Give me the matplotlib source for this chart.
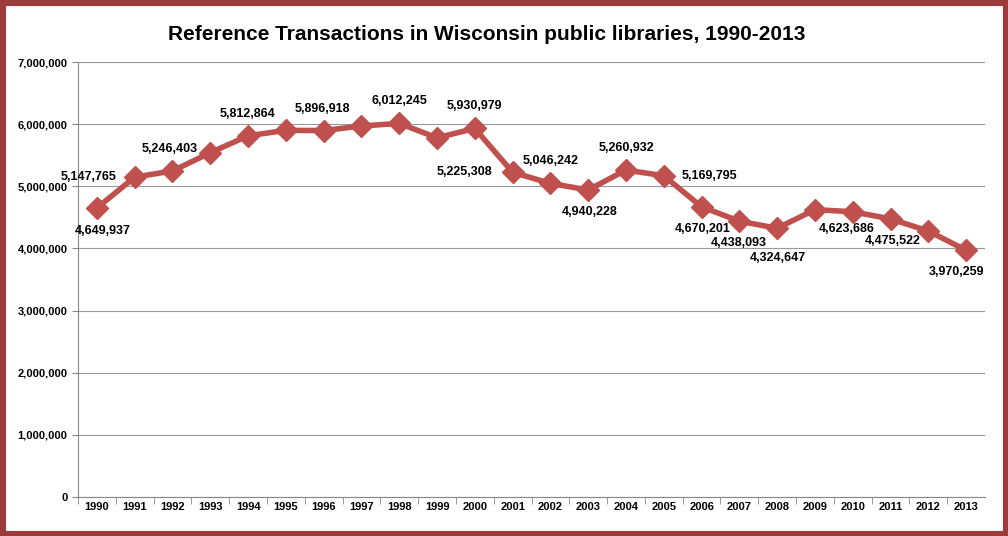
import matplotlib
matplotlib.use("Agg")
import matplotlib.pyplot as plt
from matplotlib.patches import Rectangle

years = list(range(1990, 2014))
values = [4649937, 5147765, 5246403, 5540000, 5812864, 5900000, 5896918, 5970000,
          6012245, 5780000, 5930979, 5225308, 5046242, 4940228, 5260932, 5169795,
          4670201, 4438093, 4324647, 4623686, 4590000, 4475522, 4280000, 3970259]
labeled = {1990: (6, -23), 1991: (-46, 0), 1992: (-3, 22), 1994: (-1, 22), 1996: (-1, 22),
           1998: (0, 22), 2000: (0, 22), 2001: (-48, 0), 2002: (0, 22), 2003: (1, -22),
           2004: (0, 22), 2005: (46, 0), 2006: (1, -22), 2007: (-1, -22), 2008: (1, -30),
           2009: (32, -19), 2011: (2, -22), 2013: (-10, -22)}

plt.rcParams['font.family'] = ['Liberation Sans', 'DejaVu Sans']
fig = plt.figure(figsize=(10.08, 5.36), dpi=100)
fig.patches.append(Rectangle((0, 0), 1, 1, transform=fig.transFigure, fill=False,
                             edgecolor='#9B3B3A', linewidth=8))
ax = fig.add_axes([78/1008, 1-497/536, (985-78)/1008, (497-62)/536])
x = list(range(len(years)))
ax.plot(x, values, color='#C0504D', linewidth=4, marker='D', markersize=11, zorder=3)
for i, (yr, v) in enumerate(zip(years, values)):
    if yr in labeled:
        dx, dy = labeled[yr]
        ax.annotate(f"{v:,}", (i, v), xytext=(dx, dy), textcoords='offset pixels',
                    ha='center', va='center', fontsize=9, fontweight='bold')
ax.set_xlim(-0.5, len(years)-0.5)
ax.set_ylim(0, 7000000)
ax.set_yticks(range(0, 7000001, 1000000))
ax.set_yticklabels([f"{t:,}" for t in range(0, 7000001, 1000000)], fontsize=8, fontweight='bold')
ax.set_xticks(x)
ax.set_xticklabels([str(y) for y in years], fontsize=8, fontweight='bold')
ax.set_xticks([i+0.5 for i in x[:-1]] + [-0.5], minor=True)
ax.tick_params(axis='x', which='major', length=0)
ax.tick_params(axis='x', which='minor', length=5, color='#888888')
ax.tick_params(axis='y', length=4, color='#888888')
ax.grid(axis='y', color='#999999', linewidth=0.8)
ax.set_axisbelow(True)
for s in ['top', 'right']:
    ax.spines[s].set_visible(False)
for s in ['left', 'bottom']:
    ax.spines[s].set_color('#888888')
fig.text(487/1008, 1-35/536, "Reference Transactions in Wisconsin public libraries, 1990-2013",
         ha='center', va='center', fontsize=15, fontweight='bold')
fig.savefig("out.png", dpi=100)
